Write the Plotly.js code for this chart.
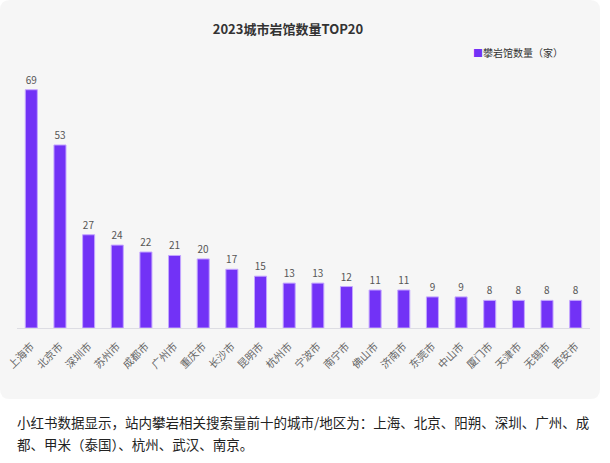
<!DOCTYPE html>
<html>
<head>
<meta charset="utf-8">
<script src="https://cdn.plot.ly/plotly-3.0.1.min.js"></script>
<style>
html,body{margin:0;padding:0;background:#fff;}
#chart{width:610px;height:463px;}
</style>
</head>
<body>
<div id="chart"></div>
<script>
const cities = ["上海市","北京市","深圳市","苏州市","成都市","广州市","重庆市","长沙市","昆明市","杭州市","宁波市","南宁市","佛山市","济南市","东莞市","中山市","厦门市","天津市","无锡市","西安市"];
const gymCounts = [69,53,27,24,22,21,20,17,15,13,13,12,11,11,9,9,8,8,8,8];
const seriesName = "攀岩馆数量（家）";
const chartTitle = "2023城市岩馆数量TOP20";
const noteLine1 = "小红书数据显示，站内攀岩相关搜索量前十的城市/地区为：上海、北京、阳朔、深圳、广州、成";
const noteLine2 = "都、甲米（泰国）、杭州、武汉、南京。";

const W = 610, H = 463;
const mL = 17, mR = 20, mT = 69, mB = 135;
const pw = W - mL - mR, ph = H - mT - mB;
const px = x => (x - mL) / pw;
const py = y => (H - mB - y) / ph;

// rounded background box
const bx0 = px(0), bx1 = px(600), by0 = py(399), by1 = py(0);
const rx = 10 / pw, ry = 10 / ph;
const boxPath = `M${bx0+rx},${by1} L${bx1-rx},${by1} Q${bx1},${by1} ${bx1},${by1-ry} L${bx1},${by0+ry} Q${bx1},${by0} ${bx1-rx},${by0} L${bx0+rx},${by0} Q${bx0},${by0} ${bx0},${by0+ry} L${bx0},${by1-ry} Q${bx0},${by1} ${bx0+rx},${by1} Z`;

const font = '"Noto Sans CJK SC", "Noto Sans", Arial, sans-serif';

const trace = {
  type: 'bar',
  x: cities,
  y: gymCounts,
  name: seriesName,
  width: 0.42,
  marker: {color: '#7232f6', line: {color: '#c4a6ff', width: 1}},
  text: gymCounts.map(String),
  textposition: 'outside',
  cliponaxis: false,
  textfont: {size: 10, color: '#555', family: font},
  hoverinfo: 'x+y'
};

const layout = {
  width: W, height: H,
  margin: {l: mL, r: mR, t: mT, b: mB},
  paper_bgcolor: '#ffffff',
  plot_bgcolor: 'rgba(0,0,0,0)',
  showlegend: false,
  font: {family: font, color: '#333'},
  title: {
    text: '<b>' + chartTitle + '</b>',
    font: {size: 13, color: '#333', family: font},
    xref: 'container', x: 288 / W, xanchor: 'center',
    yref: 'container', y: 1 - 29 / H, yanchor: 'middle'
  },
  xaxis: {
    type: 'category',
    tickangle: -45,
    tickfont: {size: 10.5, color: '#666', family: font},
    ticklabelstandoff: 7,
    showline: true, linecolor: '#dddde3', linewidth: 1,
    showgrid: false, zeroline: false, ticks: '',
    fixedrange: true
  },
  yaxis: {
    range: [0, 75],
    visible: false,
    showgrid: false, zeroline: false,
    fixedrange: true
  },
  bargap: 0.58,
  shapes: [{
    type: 'path', xref: 'paper', yref: 'paper',
    path: boxPath, fillcolor: '#f6f6f6', line: {width: 0}, layer: 'below'
  }],
  annotations: [
    {
      xref: 'paper', yref: 'paper', x: px(471), y: py(53),
      xanchor: 'left', yanchor: 'middle', showarrow: false,
      text: '<span style="color:#7232f6">■</span>' + seriesName,
      font: {size: 10, color: '#333', family: font}
    },
    {
      xref: 'paper', yref: 'paper', x: px(15), y: py(422),
      xanchor: 'left', yanchor: 'middle', showarrow: false,
      text: noteLine1,
      font: {size: 13.5, color: '#222', family: font}
    },
    {
      xref: 'paper', yref: 'paper', x: px(15), y: py(444),
      xanchor: 'left', yanchor: 'middle', showarrow: false,
      text: noteLine2,
      font: {size: 13.5, color: '#222', family: font}
    }
  ]
};

Plotly.newPlot('chart', [trace], layout, {displayModeBar: false, staticPlot: true});
</script>
</body>
</html>
